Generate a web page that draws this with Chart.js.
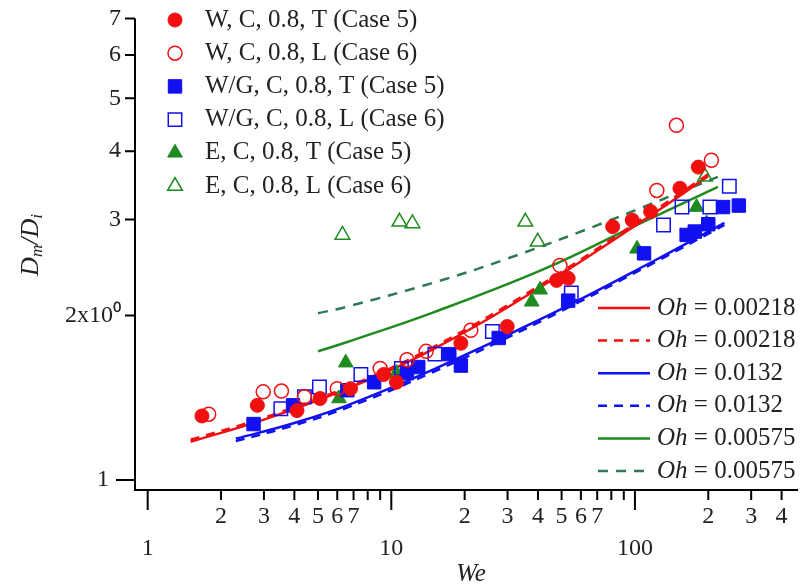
<!DOCTYPE html>
<html>
<head>
<meta charset="utf-8">
<script src="https://cdn.jsdelivr.net/npm/chart.js@4/dist/chart.umd.min.js"></script>
<style>
html, body { margin: 0; padding: 0; background: #fff; }
#wrap { width: 809px; height: 586px; }
</style>
</head>
<body>
<div id="wrap"><canvas id="myChart"></canvas></div>
<script>
// axis ticks
var xTicks = [1, 2, 3, 4, 5, 6, 7, 8, 9, 10, 20, 30, 40, 50, 60, 70, 80, 90, 100, 200, 300, 400];
var yTicks = [1, 2, 3, 4, 5, 6, 7];
var yTickLabels = ['1', '2x10\u2070', '3', '4', '5', '6', '7'];

// measured points (We, Dm/Di)
var wT_x = [1.67, 2.82, 4.1, 5.1, 6.8, 9.3, 10.5, 19.3, 29.9, 47.7, 53.2, 81, 97.5, 116, 153, 182];
var wT_y = [1.31, 1.37, 1.34, 1.41, 1.47, 1.56, 1.51, 1.78, 1.91, 2.32, 2.34, 2.91, 2.99, 3.10, 3.42, 3.74];
var wL_x = [1.78, 2.98, 3.54, 4.4, 6.0, 9.0, 11.6, 13.9, 21.2, 49.2, 123, 148, 206];
var wL_y = [1.32, 1.45, 1.455, 1.42, 1.47, 1.60, 1.66, 1.72, 1.88, 2.47, 3.39, 4.46, 3.85];
var wgT_x = [2.72, 3.95, 6.6, 8.5, 11.6, 12.9, 17.3, 19.3, 27.6, 53.2, 109, 163, 176, 200, 230, 267];
var wgT_y = [1.266, 1.37, 1.46, 1.51, 1.57, 1.61, 1.70, 1.62, 1.82, 2.13, 2.60, 2.81, 2.85, 2.94, 3.16, 3.18];
var wgL_x = [3.52, 4.4, 5.07, 7.5, 11, 15.1, 26.0, 54.8, 131, 156, 203, 244];
var wgL_y = [1.35, 1.42, 1.48, 1.56, 1.60, 1.70, 1.87, 2.20, 2.93, 3.16, 3.16, 3.45];
var eT_x = [6.1, 6.5, 10.5, 37.7, 40.8, 102, 179, 197];
var eT_y = [1.41, 1.64, 1.57, 2.12, 2.23, 2.65, 3.16, 2.95];
var eL_x = [6.3, 10.8, 12.2, 35.5, 39.9, 194];
var eL_y = [2.81, 2.97, 2.95, 2.97, 2.73, 3.59];

// model curves
var red1_x = [1.5, 3, 6.6, 15, 40, 116, 200];
var red1_y = [1.175, 1.29, 1.47, 1.74, 2.24, 3.05, 3.60];
var red2_x = [1.5, 3, 6.6, 15, 40, 116, 200];
var red2_y = [1.185, 1.30, 1.48, 1.755, 2.26, 3.08, 3.63];
var blue1_x = [2.3, 4, 6.6, 15, 42, 120, 233];
var blue1_y = [1.19, 1.272, 1.37, 1.596, 1.98, 2.52, 2.956];
var blue2_x = [2.3, 4, 6.6, 15, 42, 120, 233];
var blue2_y = [1.178, 1.26, 1.357, 1.58, 1.962, 2.50, 2.93];
var green1_x = [5, 6.6, 15, 42, 100, 219];
var green1_y = [1.72, 1.789, 2.03, 2.43, 2.92, 3.44];
var green2_x = [5, 6.6, 15, 29, 77, 219];
var green2_y = [2.02, 2.077, 2.30, 2.53, 2.976, 3.59];

function pts(xs, ys) {
    return xs.map(function (x, i) { return { x: x, y: ys[i] }; });
}

var RED = '#f01010', BLUE = '#1010f0', GREEN = '#1f8a1f', GREEN2 = '#2f7a55';
var FONT = "'Liberation Serif', 'Times New Roman', serif";

function marker(label, xs, ys, color, style, filled, r) {
    return {
        label: label, data: pts(xs, ys), order: 1,
        pointStyle: style, pointRadius: r, pointHoverRadius: r,
        backgroundColor: filled ? color : 'rgba(255,255,255,0)',
        borderColor: color, borderWidth: filled ? 1 : 1.5,
        showLine: false, isMarker: true
    };
}
function curve(label, xs, ys, color, dash) {
    return {
        label: label, data: pts(xs, ys), order: 2,
        showLine: true, pointRadius: 0, borderColor: color, backgroundColor: color,
        borderWidth: 2.5, borderDash: dash, tension: 0.4, fill: false
    };
}

var legendPlugin = {
    id: 'legendPlugin',
    afterDraw: function (chart) {
        var ctx = chart.ctx, a = chart.chartArea;
        var xs = chart.scales.x, ys = chart.scales.y;
        ctx.save();
        // axes
        ctx.strokeStyle = '#000';
        ctx.lineWidth = 2;
        ctx.beginPath();
        ctx.moveTo(a.left, a.top);
        ctx.lineTo(a.left, a.bottom);
        ctx.lineTo(a.right, a.bottom);
        xTicks.forEach(function (v) {
            var px = xs.getPixelForValue(v);
            var major = Math.abs(Math.log10(v) - Math.round(Math.log10(v))) < 1e-9;
            ctx.moveTo(px, a.bottom);
            ctx.lineTo(px, a.bottom + (major ? 20 : 10));
        });
        yTicks.forEach(function (v) {
            var py = ys.getPixelForValue(v);
            ctx.moveTo(a.left, py);
            ctx.lineTo(a.left - (v === 1 ? 19 : 10), py);
        });
        ctx.stroke();

        ctx.fillStyle = '#222';
        ctx.textBaseline = 'middle';
        // x title
        ctx.font = 'italic 25px ' + FONT;
        ctx.textAlign = 'center';
        ctx.fillText('We', 471, 574);
        // y title  D_m/D_i
        ctx.save();
        ctx.translate(31, 245);
        ctx.rotate(-Math.PI / 2);
        ctx.textAlign = 'left';
        var big = 'italic 26px ' + FONT, small = 'italic 17px ' + FONT;
        var parts = [['D', big, 0], ['m', small, 7], ['/', big, 0], ['D', big, 0], ['i', small, 7]];
        var total = 0;
        parts.forEach(function (p) { ctx.font = p[1]; total += ctx.measureText(p[0]).width; });
        var cx = -total / 2;
        parts.forEach(function (p) {
            ctx.font = p[1];
            ctx.fillText(p[0], cx, p[2]);
            cx += ctx.measureText(p[0]).width;
        });
        ctx.restore();

        // legends
        var markers = chart.data.datasets.filter(function (d) { return d.isMarker; });
        var curves = chart.data.datasets.filter(function (d) { return !d.isMarker; });
        ctx.textAlign = 'left';
        markers.forEach(function (d, i) {
            var y = 20 + i * 33.2;
            ctx.fillStyle = d.backgroundColor;
            ctx.strokeStyle = d.borderColor;
            ctx.lineWidth = d.borderWidth;
            Chart.helpers.drawPoint(ctx, { pointStyle: d.pointStyle, radius: d.pointRadius, rotation: 0, borderWidth: d.borderWidth }, 175, y);
            ctx.fillStyle = '#222';
            ctx.font = '25px ' + FONT;
            ctx.fillText(d.label, 205, y);
        });
        curves.forEach(function (d, i) {
            var y = 308 + i * 32.6;
            ctx.strokeStyle = d.borderColor;
            ctx.lineWidth = 2.5;
            ctx.setLineDash(d.borderDash || []);
            ctx.beginPath();
            ctx.moveTo(598, y);
            ctx.lineTo(650, y);
            ctx.stroke();
            ctx.setLineDash([]);
            ctx.fillStyle = '#222';
            ctx.font = 'italic 25px ' + FONT;
            ctx.fillText('Oh', 657, y);
            var w = ctx.measureText('Oh').width;
            ctx.font = '25px ' + FONT;
            ctx.fillText(d.label.replace('Oh', ''), 657 + w, y);
        });
        ctx.restore();
    }
};

var ctx = document.getElementById('myChart').getContext('2d');
var myChart = new Chart(ctx, {
    type: 'scatter',
    data: {
        datasets: [
            marker('W, C, 0.8, T (Case 5)', wT_x, wT_y, RED, 'circle', true, 7),
            marker('W, C, 0.8, L (Case 6)', wL_x, wL_y, RED, 'circle', false, 7),
            marker('W/G, C, 0.8, T (Case 5)', wgT_x, wgT_y, BLUE, 'rect', true, 9.5),
            marker('W/G, C, 0.8, L (Case 6)', wgL_x, wgL_y, BLUE, 'rect', false, 9.5),
            marker('E, C, 0.8, T (Case 5)', eT_x, eT_y, GREEN, 'triangle', true, 8.5),
            marker('E, C, 0.8, L (Case 6)', eL_x, eL_y, GREEN, 'triangle', false, 8.5),
            curve('Oh = 0.00218', red1_x, red1_y, RED, []),
            curve('Oh = 0.00218', red2_x, red2_y, RED, [9, 7]),
            curve('Oh = 0.0132', blue1_x, blue1_y, BLUE, []),
            curve('Oh = 0.0132', blue2_x, blue2_y, BLUE, [9, 7]),
            curve('Oh = 0.00575', green1_x, green1_y, GREEN, []),
            curve('Oh = 0.00575', green2_x, green2_y, GREEN2, [10, 8])
        ]
    },
    options: {
        responsive: true,
        maintainAspectRatio: false,
        animation: false,
        layout: { padding: { top: 18, right: 3, left: 0, bottom: 0 } },
        plugins: {
            legend: { display: false },
            tooltip: { enabled: false }
        },
        scales: {
            x: {
                type: 'logarithmic',
                min: 0.887,
                max: 467,
                afterBuildTicks: function (s) { s.ticks = xTicks.map(function (v) { return { value: v }; }); },
                afterFit: function (s) { s.height = 96; },
                grid: { display: false, tickLength: 10 },
                border: { display: false },
                ticks: {
                    autoSkip: false, maxRotation: 0, minRotation: 0, padding: 1, color: '#222',
                    font: { family: FONT, size: 24, lineHeight: 1.333 },
                    callback: function (v) {
                        var e = Math.floor(Math.log10(v) + 1e-9);
                        var d = Math.round(v / Math.pow(10, e));
                        if (d === 1) return ['', String(v)];
                        return d <= 7 ? String(d) : '';
                    }
                }
            },
            y: {
                type: 'logarithmic',
                min: 0.9588,
                max: 7,
                afterBuildTicks: function (s) { s.ticks = yTicks.map(function (v) { return { value: v }; }); },
                afterFit: function (s) { s.width = 135; },
                grid: { display: false, tickLength: 10 },
                border: { display: false },
                ticks: {
                    padding: 4, color: '#222',
                    font: { family: FONT, size: 24 },
                    callback: function (v) {
                        var lab = yTickLabels[yTicks.indexOf(v)];
                        return v === 1 ? lab + '\u2002' : lab;
                    }
                }
            }
        }
    },
    plugins: [legendPlugin]
});
</script>
</body>
</html>
